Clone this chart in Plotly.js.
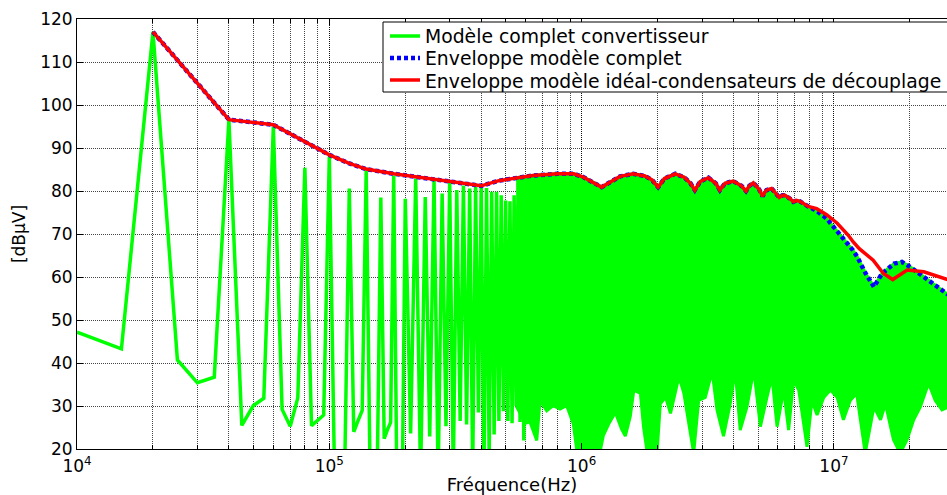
<!DOCTYPE html>
<html><head><meta charset="utf-8">
<script src="https://cdn.plot.ly/plotly-3.0.1.min.js"></script>
<style>body{margin:0;background:#fff}#c{width:947px;height:495px}</style>
</head><body><div id="c"></div>
<script>
// ---- Data (frequencies in kHz, levels in dBµV) ----
// Spectrum of the complete converter model, individual harmonics region
const spikeF_kHz = [10,15,20,25,30,35,40,45,50,55,60,65,70,75,80,85,90,95,100,105,110,115,120,125,130,135,140,145,150,155,160,165,170,175,180,185,190,195,200,
  210,220,230,240,250,260,270,280,290,300,310,320,330,340,350,360,370,380,390,400,410,420,430,440,450,460,470,480,490,500,510,520,530,540,550,560,570,580,590,600];
const spikeV = [47.2,43.3,117,40.7,35.4,36.7,96.5,25.5,30.1,31.8,95.0,29.2,25.3,31.9,85.4,25.4,26.7,27.9,88.0,12,10,14,80.6,24.0,26.6,29.0,84.8,15,12,16,78.5,22.4,24.5,26.2,83.6,15,12,16,78.2,
  23.6,82.9,13,78.6,22.9,82.5,13,79.4,25.3,81.9,14,80.2,26.5,81.3,25.7,80.6,15,80.9,28.5,81.0,14,80.7,18,79.8,23.4,79.8,26.5,79.0,28.8,77.8,26.5,77.6,26,79.0,30,76.7,26.3,78.0,22,75.1];

// Lower edge of the dense harmonic band
const bandLowF_kHz = [550,600,624,664,684,727,772,821,872,927,960,1180,1220,1280,1360,1440,1490,1560,1610,1710,1760,1820,1990,2050,2150,2250,2430,2540,2660,2780,2910,3090,3290,3440,3650,3880,4060,4250,4520,4810,5110,5430,5680,5950,6320,6610,6920,7250,7820,8180,8570,9110,9680,10300,10900,11600,12300,13300,14400,15300,16000,17200,18300,19500,20700,22000,23700,25200,26800,28500];
const bandLowV = [30,26,26.3,22,31.3,28.9,30.1,29.3,30.1,25.8,19,19,23.2,25.8,28.5,24.6,23,27.7,33.7,32.9,25,19,19,30.5,32.1,28.3,36.8,33,26.4,19,31.3,32,38,29.1,23,30.5,38.4,24.4,29.8,38.4,25.2,32.1,36.8,25.2,33.7,24.4,36,33.7,20.5,31.3,27.9,32,33.7,32,26.8,31.3,32.9,19,29.8,26.8,30.5,22.2,19,22.2,26.8,29.8,35.3,31.3,29.1,29.8];

// Envelope shared by both models
const envF_kHz = [20,40,60,80,100,120,140,180,220,260,300,350,400,470,550,640,800,930,1010,1110,1200,1300,1420,1600,1780,1900,2010,2130,2350,2550,2700,2810,2950,3180,3400,3530,3700,3990,4300,4480,4620,4790,5050,5210,5400,5660,5900,6070,6250,6390,6700,6900,7100,7330,7910];
const envV = [117,96.6,95.4,91.4,88.4,86.4,85.1,84.0,83.3,82.7,82.3,81.7,81.2,82.4,83.1,83.6,84.0,84.0,83.3,82.1,80.9,82.1,83.4,84.0,83.5,82.6,80.9,82.9,84.0,83.2,81.8,80.2,82.2,83.1,81.8,80.2,81.8,82.3,81.2,80.0,81.2,81.9,80.4,78.8,80.2,80.6,79.5,78.5,79.0,79.0,78.2,77.5,77.8,77.6,76.4];
// High-frequency parts where the two envelopes differ
const blueTailF_kHz = [8540,9350,10300,11300,11900,12400,13300,14400,15500,17300,18600,20100,22700,25600,28500];
const blueTailV = [75.4,73.6,70.6,68.0,66.2,64.6,61.0,57.7,60.8,63.1,63.5,62.3,60.0,57.7,55.8];
const redTailF_kHz = [8540,9350,10300,11400,11900,12600,14300,15700,17100,19500,22700,28500];
const redTailV = [75.9,74.5,72.5,69.7,68.2,66.6,63.9,60.8,59.4,61.6,61.2,59.3];

const xTickVals = [1e4,1e5,1e6,1e7];
const xTickText = ['10<sup>4</sup>','10<sup>5</sup>','10<sup>6</sup>','10<sup>7</sup>'];
const yTickVals = [20,30,40,50,60,70,80,90,100,110,120];

const names = ['Modèle complet convertisseur','Enveloppe modèle complet','Enveloppe modèle idéal-condensateurs de découplage'];

// ---- Build traces ----
const hz = a => a.map(v => v * 1000);
const blueF = envF_kHz.concat(blueTailF_kHz), blueV = envV.concat(blueTailV);
const redF = envF_kHz.concat(redTailF_kHz), redV = envV.concat(redTailV);

const topIdx = blueF.map((f,i)=>i).filter(i => blueF[i] >= 550);
const polyX = hz(topIdx.map(i=>blueF[i]).concat(bandLowF_kHz.slice().reverse()));
const polyY = topIdx.map(i=>blueV[i]).concat(bandLowV.slice().reverse());

const GREEN='#00ff00', BLUE='#0000ff', RED='#ff0000';
const BLUEDASH='4px,3px';
const traces = [
  {x: polyX, y: polyY, type:'scatter', mode:'lines', fill:'toself', fillcolor:GREEN,
   line:{color:GREEN, width:3}, showlegend:false, hoverinfo:'skip'},
  {x: hz(spikeF_kHz), y: spikeV, type:'scatter', mode:'lines', name:names[0],
   line:{color:GREEN, width:3.5}},
  {x: hz(blueF), y: blueV, type:'scatter', mode:'lines', name:names[1],
   line:{color:BLUE, width:4.5, dash:BLUEDASH}},
  {x: hz(redF), y: redV, type:'scatter', mode:'lines', name:names[2],
   line:{color:RED, width:3.5}}
];

// ---- Legend drawn as shapes + annotations (pixel placement converted to paper) ----
const L=77, T=19, W=870, H=430;
const px = v => (v-L)/W, py = v => 1-(v-T)/H;
const legendColors = [GREEN, BLUE, RED];
const legendDash = ['solid', BLUEDASH, 'solid'];
const legendRows = [36, 58, 80];
const shapes = [{type:'rect', xref:'paper', yref:'paper', x0:px(383), x1:px(960), y0:py(92), y1:py(22),
  line:{color:'#000', width:1}, fillcolor:'#fff', layer:'above'}];
const annotations = [];
names.forEach((n,i)=>{
  shapes.push({type:'line', xref:'paper', yref:'paper', x0:px(390), x1:px(420), y0:py(legendRows[i]), y1:py(legendRows[i]),
    line:{color:legendColors[i], width: i===1?4.5:3.5, dash:legendDash[i]}, layer:'above'});
  annotations.push({xref:'paper', yref:'paper', x:px(423), y:py(legendRows[i]+1), xanchor:'left', yanchor:'middle',
    text:n, showarrow:false, font:{family:'DejaVu Sans, Arial, sans-serif', size:18.8, color:'#000'}});
});

const FONT = 'DejaVu Sans, Arial, sans-serif';
const layout = {
  width:947, height:495,
  margin:{l:77, r:0, t:19, b:46, pad:0},
  paper_bgcolor:'#fff', plot_bgcolor:'#fff',
  font:{family:FONT, color:'#000', size:17},
  showlegend:false,
  shapes: shapes, annotations: annotations,
  xaxis:{type:'log', range:[4, 7.448], tickvals:xTickVals, ticktext:xTickText,
    ticks:'inside', ticklen:6, tickcolor:'#000', showline:true, linecolor:'#000', linewidth:1, mirror:'allticks',
    showgrid:true, gridcolor:'#111', griddash:'1px,1px', gridwidth:1,
    minor:{dtick:'D1', showgrid:true, gridcolor:'#444', griddash:'1px,1px', gridwidth:1, ticks:'inside', ticklen:4, tickcolor:'#000'},
    tickfont:{family:FONT, size:17}, ticklabelstandoff:2, zeroline:false,
    title:{text:'Fréquence(Hz)', font:{family:FONT, size:18}, standoff:12}},
  yaxis:{range:[20,120], tickvals:yTickVals, ticks:'inside', ticklen:6, tickcolor:'#000',
    showline:true, linecolor:'#000', linewidth:1, mirror:false,
    showgrid:true, gridcolor:'#444', griddash:'1px,1px', gridwidth:1, zeroline:false,
    tickfont:{family:FONT, size:17},
    title:{text:'[dBµV]', font:{family:FONT, size:17}, standoff:10}}
};
Plotly.newPlot('c', traces, layout, {staticPlot:true, displayModeBar:false});
</script></body></html>
